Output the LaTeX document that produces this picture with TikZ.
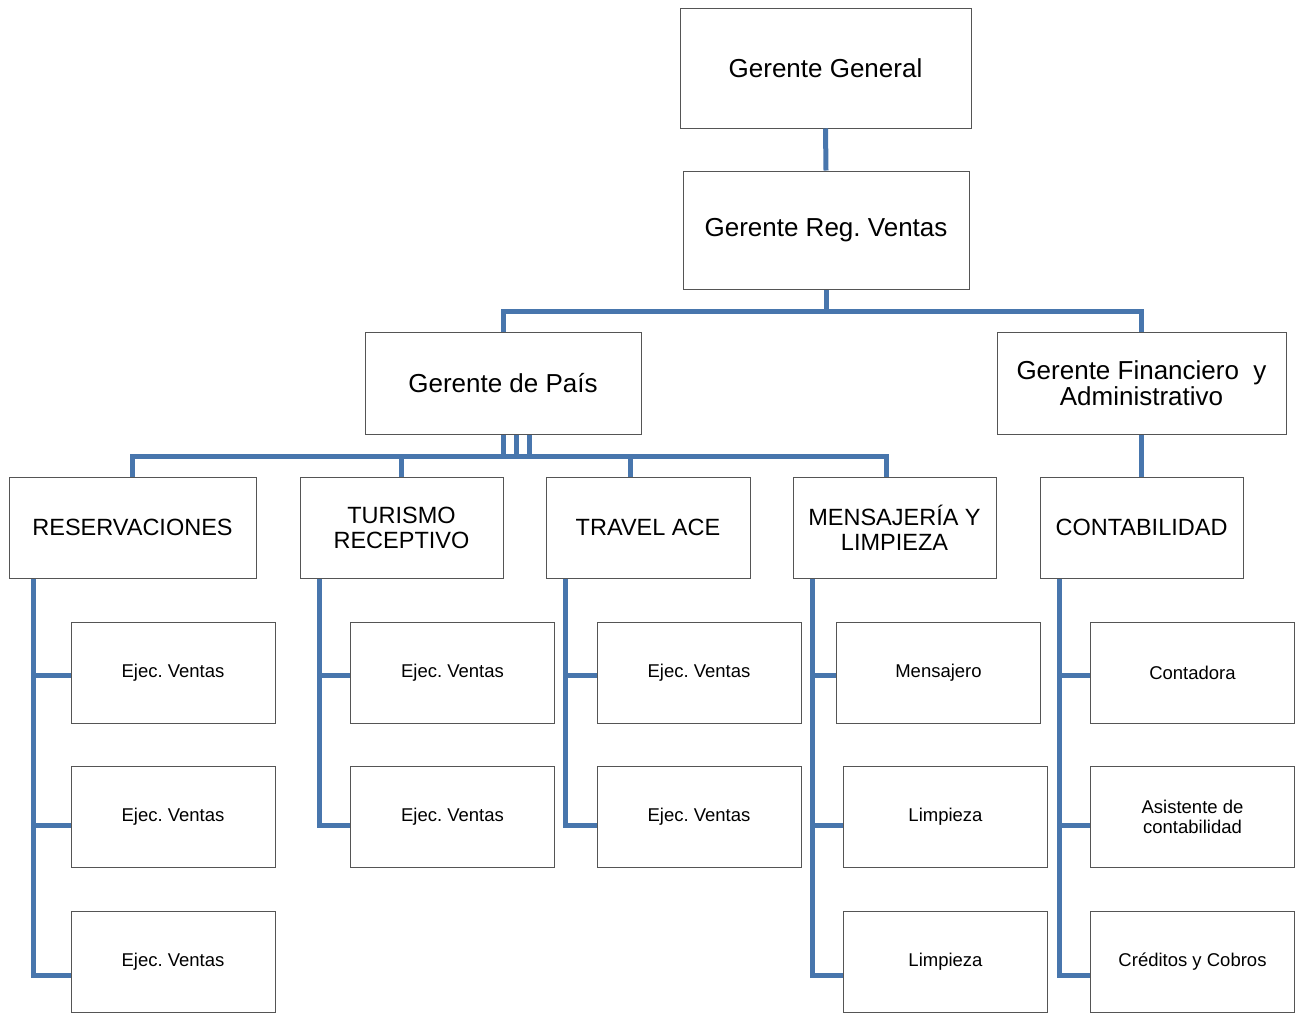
\documentclass[tikz,border=0pt]{standalone}
\usepackage{fontspec}
\setmainfont{Liberation Sans}
\frenchspacing
\definecolor{conncol}{RGB}{72,118,173}
\definecolor{boxcol}{RGB}{85,85,85}
\begin{document}
\begin{tikzpicture}[x=1pt,y=-1pt,
  box/.style={draw=boxcol,line width=1pt,fill=white,inner sep=0pt,align=center,text=black},
  big/.style={box,font=\fontsize{26}{27}\selectfont},
  mid/.style={box,font=\fontsize{23.5}{25}\selectfont},
  small/.style={box,font=\fontsize{18.5}{19.5}\selectfont},
  conn/.style={draw=conncol,line width=5pt,line join=miter}]
\useasboundingbox (0,0) rectangle (1296,1015);
% top
\node[big,minimum width=291pt,minimum height=120pt] (gg) at (825.5,68) {Gerente General};
\node[big,minimum width=286pt,minimum height=118pt] (grv) at (826,230) {Gerente Reg. Ventas};
\node[big,minimum width=276pt,minimum height=102pt] (gp) at (503,383) {Gerente de País};
\node[big,minimum width=289pt,minimum height=102pt] (gfa) at (1141.5,383) {Gerente Financiero~~y\\[-1pt]Administrativo};
% departments
\node[mid,minimum width=247pt,minimum height=101pt] (res) at (132.5,527.5) {RESERVACIONES};
\node[mid,minimum width=203pt,minimum height=101pt] (tur) at (401.5,527.5) {TURISMO\\RECEPTIVO};
\node[mid,minimum width=204pt,minimum height=101pt] (tra) at (648,527.5) {TRAVEL ACE};
\node[mid,minimum width=203pt,minimum height=101pt] (men) at (894.5,527.5) {MENSAJERÍA Y\\LIMPIEZA};
\node[mid,minimum width=203pt,minimum height=101pt] (con) at (1141.5,527.5) {CONTABILIDAD};
% children
\tikzset{child/.style={small,minimum width=204pt,minimum height=101pt}}
\node[child] (r1) at (173,672.5) {Ejec. Ventas};
\node[child] (r2) at (173,817) {Ejec. Ventas};
\node[child] (r3) at (173,962) {Ejec. Ventas};
\node[child] (t1) at (452.5,672.5) {Ejec. Ventas};
\node[child] (t2) at (452.5,817) {Ejec. Ventas};
\node[child] (a1) at (699,672.5) {Ejec. Ventas};
\node[child] (a2) at (699,817) {Ejec. Ventas};
\node[child] (m1) at (938.5,672.5) {Mensajero};
\node[child] (m2) at (945.5,817) {Limpieza};
\node[child] (m3) at (945.5,962) {Limpieza};
\node[child] (c1) at (1192.5,672.5) {Contadora};
\node[child] (c2) at (1192.5,817) {Asistente de\\contabilidad};
\node[child] (c3) at (1192.5,962) {Créditos y Cobros};
% bus coordinates
\coordinate (b1) at (0,311);
\coordinate (b2) at (0,456);
% connectors top
\draw[conn] (gg.south) -- (grv.north);
\draw[conn] (grv.south) -- (grv.south |- b1);
\draw[conn] (gp.north) -- (gp.north |- b1) -- (gfa.north |- b1) -- (gfa.north);
\draw[conn] (gfa.south) -- (con.north);
% connectors from Gerente de Pais
\draw[conn] (gp.south) -- (gp.south |- b2);
\draw[conn] ([xshift=13pt]gp.south) -- ([xshift=13pt]gp.south |- b2);
\draw[conn] ([xshift=26pt]gp.south) -- ([xshift=26pt]gp.south |- b2);
\draw[conn] (res.north) -- (res.north |- b2) -- ([xshift=-8.5pt]men.north |- b2) -- ([xshift=-8.5pt]men.north);
\draw[conn] (tur.north) -- (tur.north |- b2);
\draw[conn] ([xshift=-18pt]tra.north) -- ([xshift=-18pt]tra.north |- b2);
% spines
\coordinate (sr) at ([xshift=25pt]res.south west);
\coordinate (st) at ([xshift=20pt]tur.south west);
\coordinate (sa) at ([xshift=20pt]tra.south west);
\coordinate (sm) at ([xshift=20pt]men.south west);
\coordinate (sc) at ([xshift=20pt]con.south west);
\draw[conn] (sr) |- ([yshift=-13pt]r3.west);
\draw[conn] (st) |- ([yshift=-8pt]t2.west);
\draw[conn] (sa) |- ([yshift=-8pt]a2.west);
\draw[conn] (sm) |- ([yshift=-13pt]m3.west);
\draw[conn] (sc) |- ([yshift=-13pt]c3.west);
\foreach \n/\s in {r1/sr,t1/st,a1/sa,m1/sm,c1/sc}{
  \draw[conn] ([yshift=-2.5pt]\n.west) -- ([yshift=-2.5pt]\n.west -| \s);}
\foreach \n/\s in {r2/sr,m2/sm,c2/sc}{
  \draw[conn] ([yshift=-8pt]\n.west) -- ([yshift=-8pt]\n.west -| \s);}
\end{tikzpicture}
\end{document}
